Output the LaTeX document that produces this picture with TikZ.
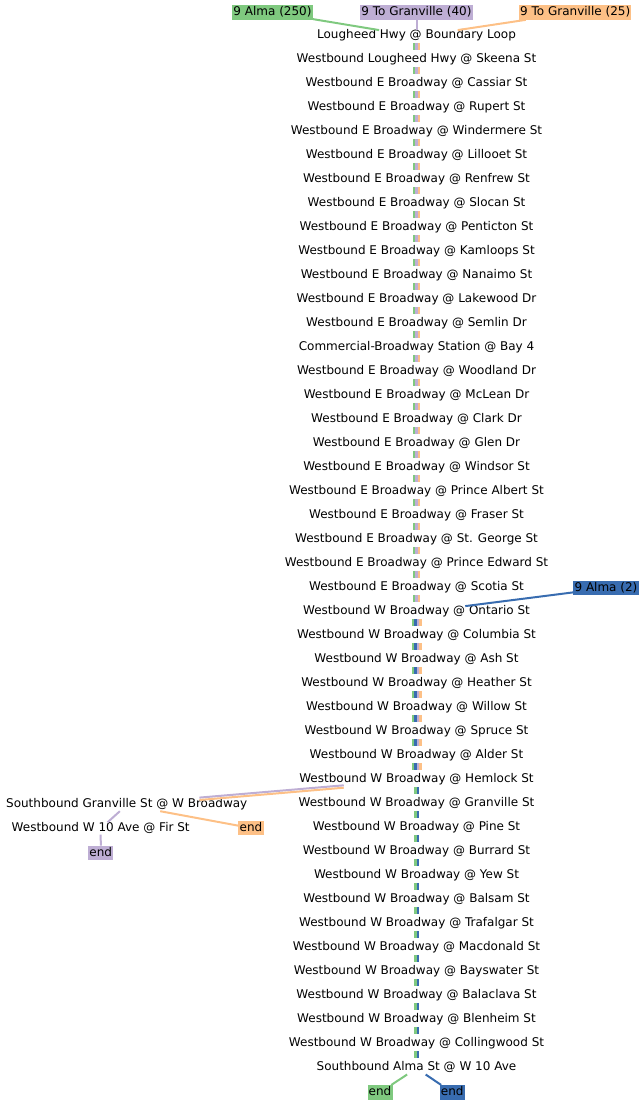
\documentclass[tikz,border=0pt]{standalone}
\usepackage{fontspec}
\setmainfont{DejaVu Sans}
\definecolor{cgreen}{HTML}{7FC97F}
\definecolor{cpurple}{HTML}{BEAED4}
\definecolor{corange}{HTML}{FDC086}
\definecolor{cblue}{HTML}{386CB0}
\begin{document}
\begin{tikzpicture}[x=1pt,y=-1pt,
  stopnode/.style={font=\fontsize{12pt}{14pt}\selectfont, inner sep=0pt, text height=8.5pt, text depth=3.5pt, anchor=base},
  lbl/.style={font=\fontsize{12pt}{14pt}\selectfont, inner xsep=1.2pt, inner ysep=0pt, text height=10.5pt, text depth=4pt},
  bar/.style={line width=2.5pt, shorten <=0.3pt, shorten >=4pt},
  link/.style={line width=2pt}]
\path[use as bounding box] (0,0) rectangle (644,1104);
\foreach \t [count=\i] in {Lougheed Hwy @ Boundary Loop,
Westbound Lougheed Hwy @ Skeena St,
Westbound E Broadway @ Cassiar St,
Westbound E Broadway @ Rupert St,
Westbound E Broadway @ Windermere St,
Westbound E Broadway @ Lillooet St,
Westbound E Broadway @ Renfrew St,
Westbound E Broadway @ Slocan St,
Westbound E Broadway @ Penticton St,
Westbound E Broadway @ Kamloops St,
Westbound E Broadway @ Nanaimo St,
Westbound E Broadway @ Lakewood Dr,
Westbound E Broadway @ Semlin Dr,
Commercial-Broadway Station @ Bay 4,
Westbound E Broadway @ Woodland Dr,
Westbound E Broadway @ McLean Dr,
Westbound E Broadway @ Clark Dr,
Westbound E Broadway @ Glen Dr,
Westbound E Broadway @ Windsor St,
Westbound E Broadway @ Prince Albert St,
Westbound E Broadway @ Fraser St,
Westbound E Broadway @ St. George St,
Westbound E Broadway @ Prince Edward St,
Westbound E Broadway @ Scotia St,
Westbound W Broadway @ Ontario St,
Westbound W Broadway @ Columbia St,
Westbound W Broadway @ Ash St,
Westbound W Broadway @ Heather St,
Westbound W Broadway @ Willow St,
Westbound W Broadway @ Spruce St,
Westbound W Broadway @ Alder St,
Westbound W Broadway @ Hemlock St,
Westbound W Broadway @ Granville St,
Westbound W Broadway @ Pine St,
Westbound W Broadway @ Burrard St,
Westbound W Broadway @ Yew St,
Westbound W Broadway @ Balsam St,
Westbound W Broadway @ Trafalgar St,
Westbound W Broadway @ Macdonald St,
Westbound W Broadway @ Bayswater St,
Westbound W Broadway @ Balaclava St,
Westbound W Broadway @ Blenheim St,
Westbound W Broadway @ Collingwood St,
Southbound Alma St @ W 10 Ave}
  \node[stopnode] (s\i) at (416.5, {14.8+24*\i}) {\t};
\node[stopnode] (gb) at (126.7, 807.5) {Southbound Granville St @ W Broadway};
\node[stopnode] (fir) at (100.7, 831) {Westbound W 10 Ave @ Fir St};
% route labels
\node[lbl, fill=cgreen] (a250) at (272.5, 12.4) {9 Alma (250)};
\node[lbl, fill=cpurple] (g40) at (416.5, 12.4) {9 To Granville (40)};
\node[lbl, fill=corange] (g25) at (575.2, 12.4) {9 To Granville (25)};
\node[lbl, fill=cblue] (a2) at (606, 588.2) {9 Alma (2)};
\node[lbl, fill=corange] (oend) at (251, 828) {end};
\node[lbl, fill=cpurple] (pend) at (100.8, 853) {end};
\node[lbl, fill=cgreen] (gend) at (380, 1092.4) {end};
\node[lbl, fill=cblue] (bend) at (452.2, 1092.4) {end};
% vertical bars
\foreach \i [evaluate=\i as \j using int(\i+1)] in {1,...,24} {
  \draw[bar, cgreen] ([xshift=-2.5pt]s\i.south) -- ([xshift=-2.5pt]s\j.north);
  \draw[bar, cpurple] (s\i.south) -- (s\j.north);
  \draw[bar, corange] ([xshift=2.5pt]s\i.south) -- ([xshift=2.5pt]s\j.north);
}
\foreach \i [evaluate=\i as \j using int(\i+1)] in {25,...,31} {
  \draw[bar, cgreen] ([xshift=-3.75pt]s\i.south) -- ([xshift=-3.75pt]s\j.north);
  \draw[bar, cblue] ([xshift=-1.25pt]s\i.south) -- ([xshift=-1.25pt]s\j.north);
  \draw[bar, cpurple] ([xshift=1.25pt]s\i.south) -- ([xshift=1.25pt]s\j.north);
  \draw[bar, corange] ([xshift=3.75pt]s\i.south) -- ([xshift=3.75pt]s\j.north);
}
\foreach \i [evaluate=\i as \j using int(\i+1)] in {32,...,43} {
  \draw[bar, cgreen] ([xshift=-1.25pt]s\i.south) -- ([xshift=-1.25pt]s\j.north);
  \draw[bar, cblue] ([xshift=1.25pt]s\i.south) -- ([xshift=1.25pt]s\j.north);
}
% other connectors
\draw[link, cgreen] (a250) -- (s1);
\draw[link, cpurple] (g40) -- (s1);
\draw[link, corange] (g25) -- (s1);
\draw[link, cblue] (a2) -- (s25);
\draw[link, cpurple, transform canvas={yshift=1.2pt}] (s32) -- (gb);
\draw[link, corange, transform canvas={yshift=-1.2pt}] (s32) -- (gb);
\draw[link, corange] (gb) -- (oend);
\draw[link, cpurple] (gb) -- (fir);
\draw[link, cpurple] (fir) -- (pend);
\draw[link, cgreen] (s44) -- (gend);
\draw[link, cblue] (s44) -- (bend);
\end{tikzpicture}
\end{document}
